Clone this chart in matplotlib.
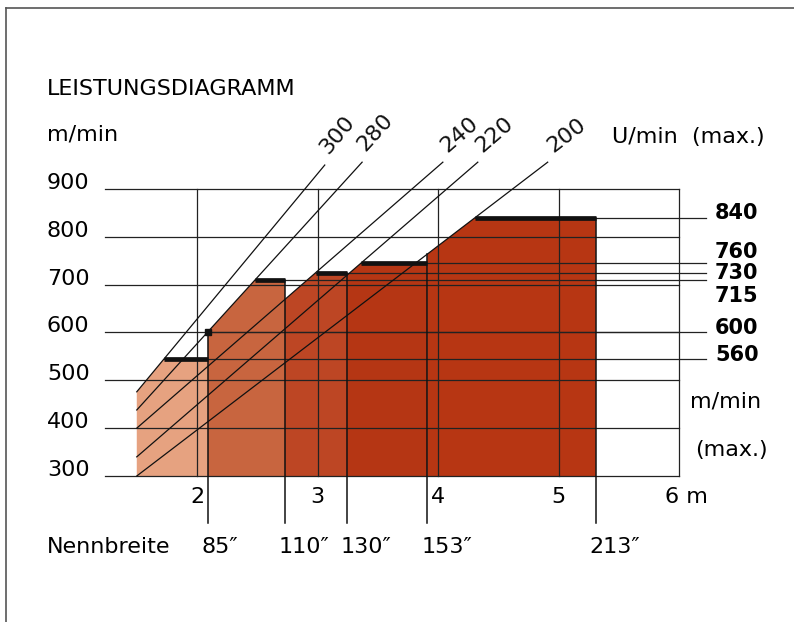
import matplotlib
matplotlib.use("Agg")
import matplotlib.pyplot as plt
import numpy as np
from matplotlib.lines import Line2D

# Nennbreite (machine widths) and their position on the metre scale
width_labels = ["85″", "110″", "130″", "153″", "213″"]
width_m = [2.09, 2.73, 3.245, 3.91, 5.31]
left_m = 1.5

# plateau (max. speed) of each width, read on the m/min scale, and the printed value
top_speed = [545, 710, 725, 745, 840]
top_labels = ["560", "715", "730", "760", "840"]
corner_label = "600"

# U/min lines: value at the left edge (1.5 m) and their upper end
rpm = [300, 280, 240, 220, 200]
rpm_start = [476, 438, 400, 340, 300]
rpm_end_m = [3.06, 3.37, 4.04, 4.33, 4.91]
rpm_end_v = [950, 956, 956, 956, 956]

speed_ticks = [300, 400, 500, 600, 700, 800, 900]
metre_ticks = [2, 3, 4, 5]

col_colors = ["#e6a280", "#c8653f", "#bd4624", "#b53614", "#b73613"]

plt.rcParams['font.family'] = ['DejaVu Sans']
fig = plt.figure(figsize=(7.94, 6.22), dpi=100)
ax = fig.add_axes([0, 0, 1, 1])
ax.set_xlim(0.365, 6.954)
ax.set_ylim(-5.2, 1295)
ax.axis('off')

lw = 0.9
grid_x0, grid_x1 = 1.237, 6.0
ext_x = 6.224
tick_bottom = 201.7
fs = 16


def rpm_line(i):
    slope = (rpm_end_v[i] - rpm_start[i]) / (rpm_end_m[i] - left_m)
    return lambda x: rpm_start[i] + slope * (x - left_m), slope


# columns
lefts = [left_m] + width_m[:-1]
flat_start = []
for i in range(5):
    f, slope = rpm_line(i)
    x0, x1 = lefts[i], width_m[i]
    xk = left_m + (top_speed[i] - rpm_start[i]) / slope
    flat_start.append(xk)
    poly_x = [x0, x0, xk, x1, x1]
    poly_y = [300, f(x0), top_speed[i], top_speed[i], 300]
    ax.fill(poly_x, poly_y, color=col_colors[i], lw=0, zorder=1)

# grid
for v in speed_ticks:
    ax.plot([grid_x0, grid_x1], [v, v], color='#222', lw=lw, zorder=3)
for m in metre_ticks + [6]:
    ax.plot([m, m], [300, 900], color='#222', lw=lw, zorder=3)

# U/min lines with rotated labels
for i in range(5):
    ax.plot([left_m, rpm_end_m[i]], [rpm_start[i], rpm_end_v[i]], color='#111', lw=lw, zorder=4)
for i in range(5):
    p0 = ax.transData.transform((left_m, rpm_start[i]))
    p1 = ax.transData.transform((rpm_end_m[i], rpm_end_v[i]))
    ang = np.degrees(np.arctan2(p1[1] - p0[1], p1[0] - p0[0]))
    off = 7
    ax.annotate(str(rpm[i]), (rpm_end_m[i], rpm_end_v[i]),
                xytext=(off * np.cos(np.radians(ang)), off * np.sin(np.radians(ang))),
                textcoords='offset points', rotation=ang, rotation_mode='anchor',
                ha='left', va='bottom', fontsize=fs, color='#111')

# width lines below the columns
f2, _ = rpm_line(1)
corner_v = f2(width_m[0])
for i in range(5):
    top = top_speed[i]
    if i + 1 < 5:
        fn, _ = rpm_line(i + 1)
        top = max(top, fn(width_m[i]))
    ax.plot([width_m[i], width_m[i]], [tick_bottom, top], color='#111', lw=1.1, zorder=5)
    ax.text(width_m[i] - 0.05, 151.6, width_labels[i], fontsize=fs, ha='left', va='center')

# plateaus, reference lines and bold labels
label_dy = [8, -33, 0, 23, 10]
for i in range(5):
    ax.plot([flat_start[i], width_m[i]], [top_speed[i], top_speed[i]], color='#111',
            lw=3.4, solid_capstyle='butt', zorder=6)
    ax.plot([flat_start[i], ext_x], [top_speed[i], top_speed[i]], color='#222', lw=lw, zorder=3)
    ax.text(6.299, top_speed[i] + label_dy[i], top_labels[i], fontsize=15,
            fontweight='bold', ha='left', va='center')
ax.plot([width_m[0]], [corner_v], marker='s', ms=5, color='#111', zorder=7)
ax.plot([width_m[0], ext_x], [600, 600], color='#222', lw=lw, zorder=3)
ax.text(6.299, 609, corner_label, fontsize=15, fontweight='bold', ha='left', va='center')

# axis labels
for v in speed_ticks:
    ax.text(0.755, v, str(v), fontsize=fs, ha='left', va='baseline')
for m in metre_ticks:
    ax.text(m, 256, str(m), fontsize=fs, ha='center', va='center')
ax.text(6.06, 256, "6 m", fontsize=fs, ha='center', va='center')

ax.text(0.755, 1109, "LEISTUNGSDIAGRAMM", fontsize=fs, ha='left', va='center')
ax.text(0.755, 1013, "m/min", fontsize=fs, ha='left', va='center')
ax.text(5.444, 1009, "U/min  (max.)", fontsize=fs, ha='left', va='center')
ax.text(6.091, 455, "m/min", fontsize=fs, ha='left', va='center')
ax.text(6.133, 354, "(max.)", fontsize=fs, ha='left', va='center')
ax.text(0.755, 151.6, "Nennbreite", fontsize=fs, ha='left', va='center')

# frame
fig.add_artist(Line2D([0.0076, 0.0076], [0, 0.987], color='#555', lw=1.2))
fig.add_artist(Line2D([0.0076, 1], [0.987, 0.987], color='#555', lw=1.2))

fig.savefig("out.png", dpi=100)
